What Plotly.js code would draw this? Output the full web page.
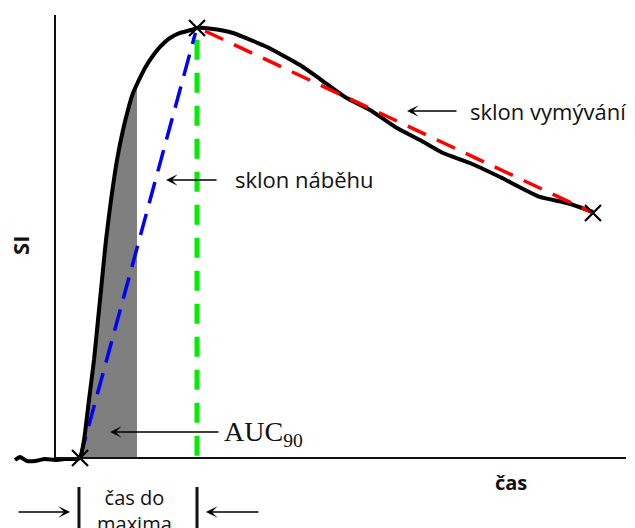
<!DOCTYPE html>
<html>
<head>
<meta charset="utf-8">
<script src="https://cdn.plot.ly/plotly-3.0.1.min.js"></script>
<style>html,body{margin:0;padding:0;background:#fff;}#chart{width:635px;height:528px;}</style>
</head>
<body>
<div id="chart"></div>
<script>
// time axis (arbitrary units) and signal intensity (SI, arbitrary units)
const curveT = [-7.0, -6.13, -4.9, -3.5, -1.75, 0, 1.75, 3.5, 4.38,
  5.08, 5.95, 6.83, 7.53, 8.23, 8.93, 9.81, 10.86, 11.91, 12.78, 13.66, 14.54, 15.76, 16.99, 18.39, 20.14, 21.89, 23.82, 24.87,
  27.67, 31.17, 37.13, 42.91, 46.41, 50.79, 55.17, 59.89, 63.92, 67.95, 72.68, 77.93, 84.94, 89.67, 94.22];
const curveSI = [-0.45, 0.23, -0.68, -0.68, -0.23, -0.45, -0.23, -0.23, 0,
  4.06, 13.09, 22.12, 31.15, 40.18, 49.21, 58.24, 67.27, 74.04, 78.56, 82.39, 84.88, 88.04, 90.52, 92.78, 94.81, 95.94, 96.61, 97.07,
  96.84, 95.94, 92.78, 88.71, 85.55, 81.49, 78.56, 74.49, 71.78, 68.85, 66.59, 63.43, 58.92, 57.56, 55.53];

// key points: onset, maximum, end
const keyT = [4.38, 24.87, 94.22];
const keySI = [0, 97.07, 55.30];

// AUC90 integration limit (time, and curve value there)
const aucEndT = 14.36;
const aucEndSI = 84.4;

// slope lines
const upslopeT = [4.38, 24.6];
const upslopeSI = [0, 96.0];
const washoutT = [26.27, 94.22];
const washoutSI = [96.39, 55.30];
const tmaxLineSI = [0.5, 97.07];

// axis extents
const axisT = [0, 100];
const axisSI = [0, 100];

// labels
const labelUp = 'sklon náběhu';
const labelWash = 'sklon vymývání';
const labelAUC = 'AUC<sub>90</sub>';
const labelTTP = 'čas do<br>maxima';
const labelX = 'čas';
const labelY = 'SI';

// build AUC polygon from the curve
const aucT = [], aucSI = [];
for (let i = 0; i < curveT.length; i++) {
  if (curveT[i] >= keyT[0] && curveT[i] < aucEndT) { aucT.push(curveT[i]); aucSI.push(curveSI[i]); }
}
aucT.push(aucEndT, aucEndT, keyT[0]); aucSI.push(aucEndSI, 0, 0);

const traces = [
  {x: aucT, y: aucSI, mode: 'lines', fill: 'toself', fillcolor: '#7f7f7f', line: {width: 0, color: '#7f7f7f'}, hoverinfo: 'skip'},
  {x: [keyT[1], keyT[1]], y: tmaxLineSI, mode: 'lines', line: {color: '#00ee00', width: 5, dash: '20px,13px'}},
  {x: upslopeT, y: upslopeSI, mode: 'lines', line: {color: '#0000ff', width: 3.5, dash: '22px,11px'}},
  {x: curveT, y: curveSI, mode: 'lines', line: {color: '#000', width: 4, shape: 'spline', smoothing: 0.5}},
  {x: washoutT, y: washoutSI, mode: 'lines', line: {color: '#ff0000', width: 3.5, dash: '20px,12px'}},
  {x: keyT, y: keySI, mode: 'markers', marker: {symbol: 'x-thin', size: 16, line: {color: '#000', width: 2.2}}}
];

const arrow = {axref: 'x', ayref: 'y', xref: 'x', yref: 'y', text: '', showarrow: true, arrowhead: 3, arrowsize: 1.5, arrowwidth: 1.3, arrowcolor: '#000'};

const layout = {
  width: 635, height: 528,
  margin: {l: 0, r: 0, t: 0, b: 0},
  paper_bgcolor: '#fff', plot_bgcolor: '#fff',
  showlegend: false,
  xaxis: {range: [-9.632, 101.576], visible: false, fixedrange: true},
  yaxis: {range: [-15.80, 103.386], visible: false, fixedrange: true},
  shapes: [
    {type: 'line', xref: 'x', yref: 'y', x0: axisT[0], x1: axisT[0], y0: axisSI[0], y1: axisSI[1], line: {color: '#111', width: 2}},
    {type: 'line', xref: 'x', yref: 'y', x0: axisT[0], x1: axisT[1], y0: axisSI[0], y1: axisSI[0], line: {color: '#111', width: 2}},
    {type: 'line', xref: 'x', yref: 'y', x0: 4.2, x1: 4.2, y0: -6.55, y1: -16, line: {color: '#111', width: 3}},
    {type: 'line', xref: 'x', yref: 'y', x0: keyT[1], x1: keyT[1], y0: -6.55, y1: -16, line: {color: '#111', width: 3}}
  ],
  annotations: [
    // arrows
    Object.assign({x: 19.44, y: 62.75, ax: 28.55, ay: 62.75}, arrow),
    Object.assign({x: 61.65, y: 78.33, ax: 70.58, ay: 78.33}, arrow),
    Object.assign({x: 9.63, y: 5.87, ax: 28.9, ay: 5.87}, arrow),
    Object.assign({x: 2.63, y: -12.19, ax: -6.65, ay: -12.19}, arrow),
    Object.assign({x: 26.44, y: -12.19, ax: 35.9, ay: -12.19}, arrow),
    // texts
    {x: 31.17, y: 62.98, xref: 'x', yref: 'y', xanchor: 'left', yanchor: 'middle', text: labelUp, showarrow: false, font: {family: 'Open Sans', size: 22, color: '#111'}},
    {x: 72.33, y: 78.33, xref: 'x', yref: 'y', xanchor: 'left', yanchor: 'middle', text: labelWash, showarrow: false, font: {family: 'Open Sans', size: 22, color: '#111'}},
    {x: 29.25, y: 5.5, xref: 'x', yref: 'y', xanchor: 'left', yanchor: 'middle', text: labelAUC, showarrow: false, font: {family: 'Liberation Serif', size: 28, color: '#111'}},
    {x: 13.84, y: -11.9, xref: 'x', yref: 'y', xanchor: 'center', yanchor: 'middle', text: labelTTP, showarrow: false, font: {family: 'Open Sans', size: 20, color: '#111'}},
    {x: 79.86, y: -5.42, xref: 'x', yref: 'y', xanchor: 'center', yanchor: 'middle', text: '<b>' + labelX + '</b>', showarrow: false, font: {family: 'Open Sans', size: 20, color: '#111'}},
    {x: -6.13, y: 47.86, xref: 'x', yref: 'y', xanchor: 'center', yanchor: 'middle', text: '<b>' + labelY + '</b>', textangle: -90, showarrow: false, font: {family: 'Open Sans', size: 22, color: '#111'}}
  ]
};

Plotly.newPlot('chart', traces, layout, {displayModeBar: false, staticPlot: true});
</script>
</body>
</html>
